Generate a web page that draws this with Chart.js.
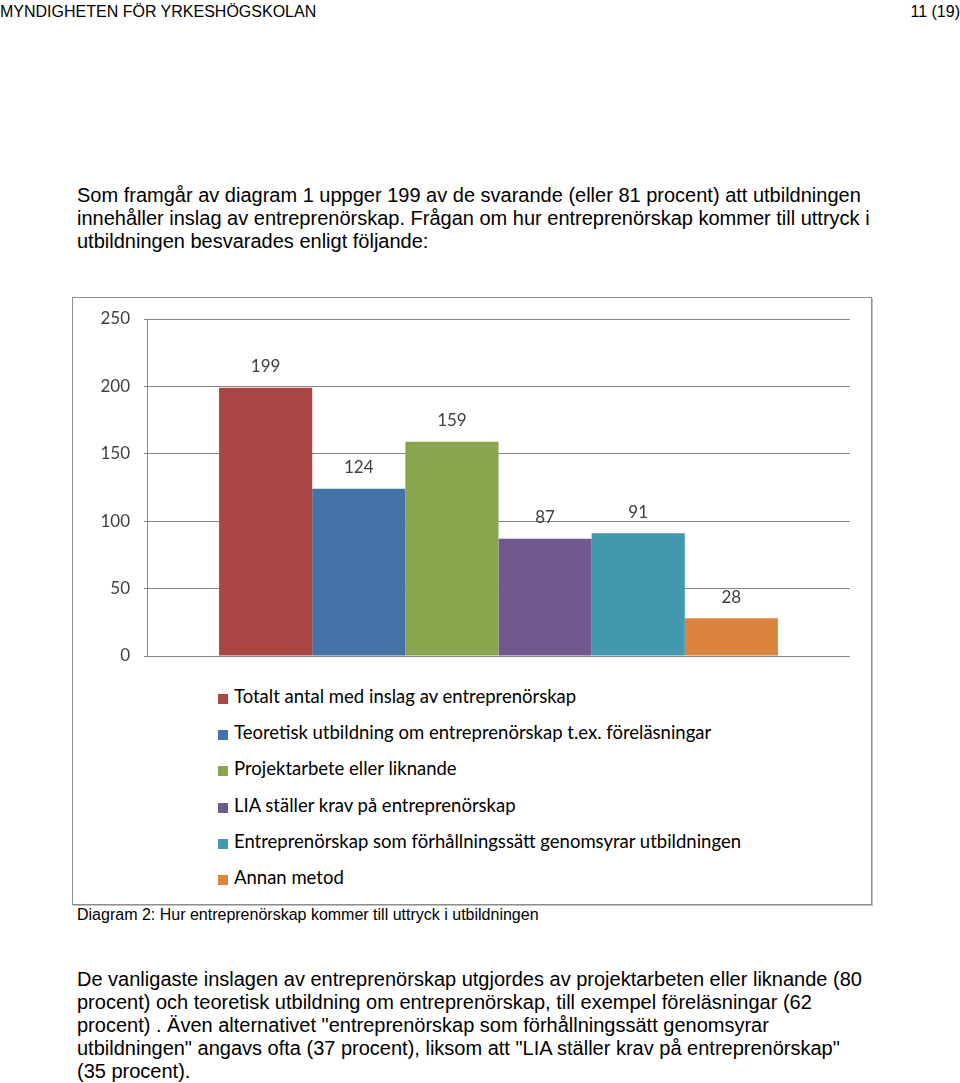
<!DOCTYPE html>
<html lang="sv">
<head>
<meta charset="utf-8">
<title>Diagram 2</title>
<script src="https://cdn.jsdelivr.net/npm/chart.js@4.4.1/dist/chart.umd.min.js"></script>
<style>
  body { margin: 0; background: #fff; font-family: "Liberation Sans", Arial, sans-serif; color: #000; }
  .sida { position: relative; width: 960px; height: 1083px; overflow: hidden; }
  .rad { position: absolute; white-space: nowrap; }
  .huvud { font-size: 16px; top: 3px; }
  .stycke { left: 77px; font-size: 20px; line-height: 23px; white-space: nowrap; position: absolute; }
  .ram { position: absolute; left: 72px; top: 297px; width: 798px; height: 606px;
         border: 1px solid #8c8c8c; box-shadow: 1px 1px 0 #c4c4c4; }
  #diagram { position: absolute; left: 0; top: 0; }
  #forklaring { position: absolute; left: 145px; top: 380px; margin: 0; padding: 0; list-style: none;
                font-family: Lato, "Open Sans", sans-serif; font-size: 18.5px; color: #000; }
  #forklaring li { height: 36.2px; line-height: 36.2px; white-space: nowrap; }
  #forklaring span { display: inline-block; width: 10px; height: 10px; margin-right: 6px; vertical-align: -1px; }
  .text { position: absolute; left: 77px; top: 905px; font-size: 16px; line-height: 20px; }
</style>
</head>
<body>
<div class="sida">
  <div class="rad huvud" style="left:0">MYNDIGHETEN FÖR YRKESHÖGSKOLAN</div>
  <div class="rad huvud" style="right:0">11 (19)</div>

  <div class="stycke" style="top:184px">Som framgår av diagram 1 uppger 199 av de svarande (eller 81 procent) att utbildningen<br>innehåller inslag av entreprenörskap. Frågan om hur entreprenörskap kommer till uttryck i<br>utbildningen besvarades enligt följande:</div>

  <div class="ram">
    <canvas id="diagram" width="798" height="380"></canvas>
    <ul id="forklaring"></ul>
  </div>
  <div class="text">Diagram 2: Hur entreprenörskap kommer till uttryck i utbildningen</div>

  <div class="stycke" style="top:968px">De vanligaste inslagen av entreprenörskap utgjordes av projektarbeten eller liknande (80<br>procent) och teoretisk utbildning om entreprenörskap, till exempel föreläsningar (62<br>procent) . Även alternativet "entreprenörskap som förhållningssätt genomsyrar<br>utbildningen" angavs ofta (37 procent), liksom att "LIA ställer krav på entreprenörskap"<br>(35 procent).</div>
</div>

<script>
// data
var kategorier = [""];
var serier = [
  "Totalt antal med inslag av entreprenörskap",
  "Teoretisk utbildning om entreprenörskap t.ex. föreläsningar",
  "Projektarbete eller liknande",
  "LIA ställer krav på entreprenörskap",
  "Entreprenörskap som förhållningssätt genomsyrar utbildningen",
  "Annan metod"
];
var varden = [199, 124, 159, 87, 91, 28];
var farger = ["#AA4643", "#4572A7", "#89A54E", "#71588F", "#4198AF", "#DB843D"];
var yMin = 0, yMax = 250, ySteg = 50;

var typsnitt = "Lato, 'Open Sans', sans-serif";

// värden ovanför staplarna
var vardeEtiketter = {
  id: "vardeEtiketter",
  afterDatasetsDraw: function (chart) {
    var ctx = chart.ctx;
    ctx.save();
    ctx.font = "17px " + typsnitt;
    ctx.fillStyle = "#404040";
    ctx.textAlign = "center";
    ctx.textBaseline = "middle";
    chart.data.datasets.forEach(function (ds, i) {
      chart.getDatasetMeta(i).data.forEach(function (bar, j) {
        ctx.fillText(ds.data[j], bar.x, bar.y - 21);
      });
    });
    ctx.restore();
  }
};

var ctx = document.getElementById("diagram").getContext("2d");
var diagram = new Chart(ctx, {
  type: "bar",
  data: {
    labels: kategorier,
    datasets: serier.map(function (namn, i) {
      return {
        label: namn,
        data: [varden[i]],
        backgroundColor: farger[i],
        borderWidth: 0,
        categoryPercentage: 0.795,
        barPercentage: 1
      };
    })
  },
  options: {
    responsive: false,
    animation: false,
    layout: { padding: { left: 0, right: 21, top: 21, bottom: 22 } },
    plugins: {
      legend: { display: false },
      tooltip: { enabled: false }
    },
    scales: {
      x: { display: false },
      y: {
        min: yMin,
        max: yMax,
        afterFit: function (scale) {
          scale.width = 74;
          // låt layout.padding styra ritytan
          scale.paddingTop = 0;
          scale.paddingBottom = 0;
        },
        ticks: {
          stepSize: ySteg,
          color: "#404040",
          padding: 14,
          font: { family: typsnitt, size: 17 }
        },
        grid: { color: "#878787", lineWidth: 1, tickLength: 3 },
        border: { color: "#878787" }
      }
    }
  },
  plugins: [vardeEtiketter]
});

// förklaring, en rad per serie
var lista = document.getElementById("forklaring");
diagram.data.datasets.forEach(function (ds) {
  var li = document.createElement("li");
  var ruta = document.createElement("span");
  ruta.style.background = ds.backgroundColor;
  li.appendChild(ruta);
  li.appendChild(document.createTextNode(ds.label));
  lista.appendChild(li);
});
</script>
</body>
</html>
